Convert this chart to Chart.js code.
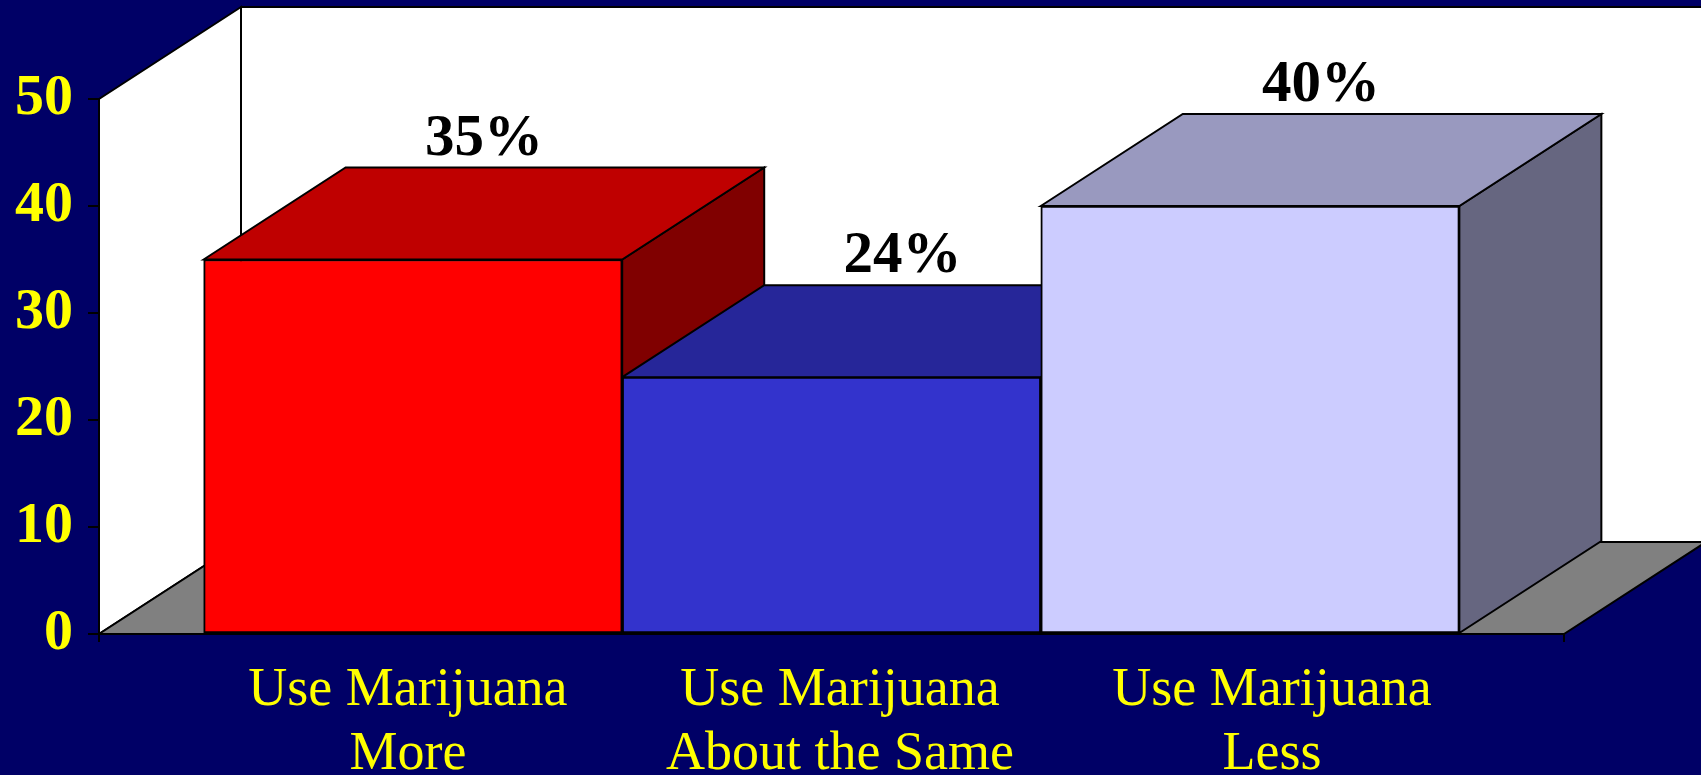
<!DOCTYPE html>
<html>
<head>
<meta charset="utf-8">
<script src="https://cdn.jsdelivr.net/npm/chart.js@4/dist/chart.umd.min.js"></script>
<style>
html,body{margin:0;padding:0;background:#000066;overflow:hidden;}
canvas{display:block;}
</style>
</head>
<body>
<canvas id="c" width="1701" height="775"></canvas>
<script>
// ---- data ----
const categories = [["Use Marijuana", "More"], ["Use Marijuana", "About the Same"], ["Use Marijuana", "Less"]];
const values = [35, 24, 40];
const valueLabels = ["35%", "24%", "40%"];
const yTicks = [0, 10, 20, 30, 40, 50];

// ---- styles ----
const frontColors = ['#FF0000', '#3333CC', '#CCCCFF'];
const topColors = ['#BF0000', '#262699', '#9999BF'];
const sideColors = ['#800000', '#1A1A66', '#666680'];
const DEPTH_X = 142, DEPTH_Y = 92;
const SERIF = '"Liberation Serif", "Times New Roman", serif';

function poly(ctx, pts, fill) {
  ctx.beginPath();
  ctx.moveTo(pts[0][0], pts[0][1]);
  for (let i = 1; i < pts.length; i++) ctx.lineTo(pts[i][0], pts[i][1]);
  ctx.closePath();
  if (fill) { ctx.fillStyle = fill; ctx.fill(); }
  ctx.stroke();
}

const threeD = {
  id: 'threeD',
  beforeDraw(chart) {
    const ctx = chart.ctx;
    ctx.save();
    ctx.fillStyle = '#000066';
    ctx.fillRect(0, 0, chart.width, chart.height);
    ctx.restore();
  },
  beforeDatasetsDraw(chart) {
    const ctx = chart.ctx, a = chart.chartArea;
    ctx.save();
    ctx.lineWidth = 2;
    ctx.strokeStyle = '#000';
    ctx.lineJoin = 'miter';
    // left wall
    poly(ctx, [[a.left, a.bottom], [a.left, a.top], [a.left + DEPTH_X, a.top - DEPTH_Y], [a.left + DEPTH_X, a.bottom - DEPTH_Y]], '#FFFFFF');
    // back wall
    poly(ctx, [[a.left + DEPTH_X, a.top - DEPTH_Y], [a.right + DEPTH_X, a.top - DEPTH_Y], [a.right + DEPTH_X, a.bottom - DEPTH_Y], [a.left + DEPTH_X, a.bottom - DEPTH_Y]], '#FFFFFF');
    // floor
    poly(ctx, [[a.left, a.bottom], [a.right, a.bottom], [a.right + DEPTH_X, a.bottom - DEPTH_Y], [a.left + DEPTH_X, a.bottom - DEPTH_Y]], '#808080');
    // bar sides and tops, left to right
    const meta = chart.getDatasetMeta(0);
    meta.data.forEach((bar, i) => {
      const p = bar.getProps(['x', 'y', 'base', 'width'], true);
      const l = p.x - p.width / 2, r = p.x + p.width / 2;
      poly(ctx, [[r, p.y], [r + DEPTH_X, p.y - DEPTH_Y], [r + DEPTH_X, p.base - DEPTH_Y], [r, p.base]], sideColors[i]);
      poly(ctx, [[l, p.y], [l + DEPTH_X, p.y - DEPTH_Y], [r + DEPTH_X, p.y - DEPTH_Y], [r, p.y]], topColors[i]);
    });
    ctx.restore();
  },
  afterDatasetsDraw(chart) {
    const ctx = chart.ctx, a = chart.chartArea;
    ctx.save();
    ctx.lineWidth = 2;
    ctx.strokeStyle = '#000';
    // axis lines
    ctx.beginPath();
    ctx.moveTo(a.left, a.top); ctx.lineTo(a.left, a.bottom + 8);
    ctx.moveTo(a.left, a.bottom); ctx.lineTo(a.right, a.bottom);
    ctx.moveTo(a.right, a.bottom); ctx.lineTo(a.right, a.bottom + 8);
    ctx.stroke();
    // value labels
    ctx.fillStyle = '#000';
    ctx.font = 'bold 59px ' + SERIF;
    ctx.textAlign = 'center';
    ctx.textBaseline = 'alphabetic';
    const meta = chart.getDatasetMeta(0);
    meta.data.forEach((bar, i) => {
      const p = bar.getProps(['x', 'y'], true);
      ctx.fillText(valueLabels[i], p.x + DEPTH_X / 2, p.y - DEPTH_Y - 13);
    });
    ctx.restore();
  }
};

new Chart(document.getElementById('c'), {
  type: 'bar',
  data: {
    datasets: [{
      data: values.map((v, i) => ({ x: i, y: v })),
      backgroundColor: frontColors,
      borderColor: '#000',
      borderWidth: 2,
      borderSkipped: false,
      barPercentage: 1,
      categoryPercentage: 1
    }]
  },
  options: {
    responsive: false,
    devicePixelRatio: 1,
    animation: false,
    layout: { padding: { top: 99, right: 137, left: 0, bottom: 0 } },
    plugins: { legend: { display: false }, tooltip: { enabled: false } },
    scales: {
      x: {
        type: 'linear', min: -0.75, max: 2.75, display: false, offset: false,
        grid: { offset: false },
        afterBuildTicks: s => { s.ticks = values.map((_, i) => ({ value: i })); }
      },
      xl: {
        type: 'linear', axis: 'x', position: 'bottom', min: -0.715, max: 2.676,
        offset: false,
        grid: { display: false, drawTicks: false, offset: false },
        border: { display: false },
        afterBuildTicks: s => { s.ticks = categories.map((_, i) => ({ value: i })); },
        afterFit: s => { s.height = 141; },
        ticks: {
          callback: v => categories[v],
          color: '#FFFF00',
          font: { family: SERIF, size: 54, lineHeight: 1.2 },
          padding: 24,
          maxRotation: 0, minRotation: 0, autoSkip: false
        }
      },
      y: {
        min: 0, max: 50,
        afterBuildTicks: s => { s.ticks = yTicks.map(v => ({ value: v })); },
        afterFit: s => { s.width = 99; },
        grid: { drawOnChartArea: false, drawTicks: true, tickLength: 11, color: '#000', lineWidth: 2 },
        border: { display: false },
        ticks: {
          color: '#FFFF00',
          font: { family: SERIF, size: 58, weight: 'bold' },
          padding: 15
        }
      }
    }
  },
  plugins: [threeD]
});
</script>
</body>
</html>
